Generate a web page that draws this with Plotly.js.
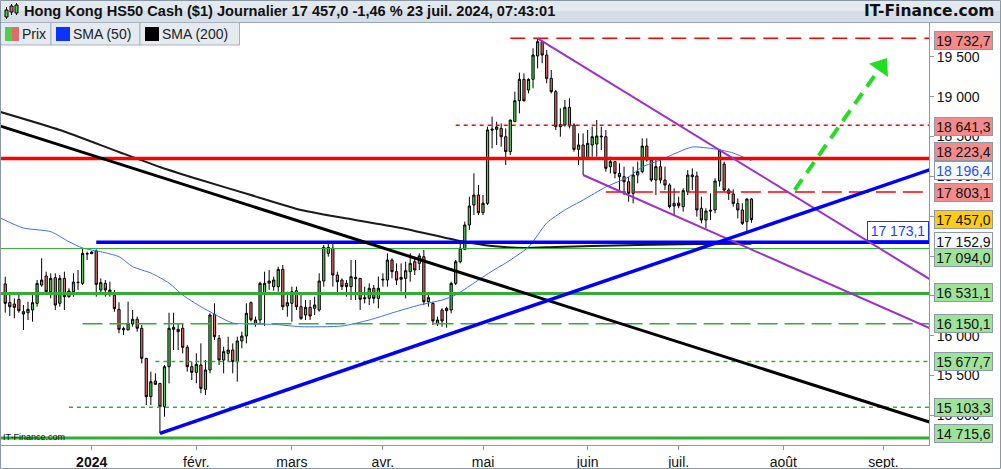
<!DOCTYPE html>
<html><head><meta charset="utf-8">
<script src="https://cdn.plot.ly/plotly-3.0.1.min.js"></script>
<style>html,body{margin:0;padding:0;background:#fff;}#chart{width:1001px;height:469px;}</style>
</head><body><div id="chart"></div>
<script>
// ---------- DATA ----------
const dates = ['2023-12-05','2023-12-06','2023-12-07','2023-12-08','2023-12-11','2023-12-12','2023-12-13','2023-12-14','2023-12-15','2023-12-18','2023-12-19','2023-12-20','2023-12-21','2023-12-22','2023-12-25','2023-12-26','2023-12-27','2023-12-28','2023-12-29',
'2024-01-01','2024-01-02','2024-01-03','2024-01-04','2024-01-05','2024-01-08','2024-01-09','2024-01-10','2024-01-11','2024-01-12','2024-01-15','2024-01-16','2024-01-17','2024-01-18','2024-01-19','2024-01-22','2024-01-23','2024-01-24','2024-01-25','2024-01-26','2024-01-29','2024-01-30','2024-01-31',
'2024-02-01','2024-02-02','2024-02-05','2024-02-06','2024-02-07','2024-02-08','2024-02-09','2024-02-12','2024-02-13','2024-02-14','2024-02-15','2024-02-16','2024-02-19','2024-02-20','2024-02-21','2024-02-22','2024-02-23','2024-02-26','2024-02-27','2024-02-28','2024-02-29',
'2024-03-01','2024-03-04','2024-03-05','2024-03-06','2024-03-07','2024-03-08','2024-03-11','2024-03-12','2024-03-13','2024-03-14','2024-03-15','2024-03-18','2024-03-19','2024-03-20','2024-03-21','2024-03-22','2024-03-25','2024-03-26','2024-03-27','2024-03-28',
'2024-04-01','2024-04-02','2024-04-03','2024-04-04','2024-04-05','2024-04-08','2024-04-09','2024-04-10','2024-04-11','2024-04-12','2024-04-15','2024-04-16','2024-04-17','2024-04-18','2024-04-19','2024-04-22','2024-04-23','2024-04-24','2024-04-25','2024-04-26','2024-04-29','2024-04-30',
'2024-05-01','2024-05-02','2024-05-03','2024-05-06','2024-05-07','2024-05-08','2024-05-09','2024-05-10','2024-05-13','2024-05-14','2024-05-15','2024-05-16','2024-05-17','2024-05-20','2024-05-21','2024-05-22','2024-05-23','2024-05-24','2024-05-27','2024-05-28','2024-05-29','2024-05-30','2024-05-31',
'2024-06-03','2024-06-04','2024-06-05','2024-06-06','2024-06-07','2024-06-10','2024-06-11','2024-06-12','2024-06-13','2024-06-14','2024-06-17','2024-06-18','2024-06-19','2024-06-20','2024-06-21','2024-06-24','2024-06-25','2024-06-26','2024-06-27','2024-06-28',
'2024-07-01','2024-07-02','2024-07-03','2024-07-04','2024-07-05','2024-07-08','2024-07-09','2024-07-10','2024-07-11','2024-07-12','2024-07-15','2024-07-16','2024-07-17','2024-07-18','2024-07-19','2024-07-22','2024-07-23'];

const opens = [16650,16415,16398,16456,16302,16289,16323,16406,16636,16749,16553,16728,16406,16720,16490,16553,16666,16657,17026,
17030,17063,16574,16657,16532,16511,16330,16090,16072,16147,16206,16093,15716,15235,15432,15402,15109,15611,16105,16080,16093,15854,15611,
15540,15632,15327,15570,16268,15967,15695,15779,15821,15674,15934,15996,16415,16155,16197,16532,16660,16616,16616,16833,16373,
16406,16565,16364,16260,16356,16344,16323,16687,17034,17097,16762,16699,16657,16616,16733,16720,16478,16469,16595,16469,
16699,16699,16950,16804,16708,16720,16804,16929,16908,16992,16427,16406,16155,16323,16344,16323,16657,16929,17084,17390,17641,17766,
17544,17662,18594,18590,18603,18498,18310,18687,18950,19218,19084,19218,19511,19691,19523,19230,19063,18650,18645,18866,18645,18339,18394,
18226,18394,18406,18506,18498,18122,18185,18038,17996,17933,17787,18017,18059,18381,18206,17954,18122,17954,17891,17661,
17665,17620,17808,18017,18005,17599,17452,17578,17578,17942,18155,17829,17779,17661,17578,17431,17716];

const highs = [16741,16532,16469,16511,16385,16427,16511,16699,16971,16804,16783,16783,16762,16804,16595,16783,16825,17097,17055,
17060,17084,16720,16699,16678,16574,16420,16113,16427,16323,16239,16134,15716,15549,15528,15402,15632,16289,16289,16155,16155,15883,15674,
15779,15904,15695,16281,16406,16009,15862,15988,15904,15988,16051,16406,16430,16240,16678,16804,16825,16741,16867,16888,16553,
16616,16616,16532,16448,16448,16490,16783,17139,17180,17160,16804,16720,16699,16950,16950,16720,16616,16657,16637,16741,
16783,17034,16971,16908,16908,16929,17034,16992,17034,17076,16532,16427,16239,16344,16364,16678,16950,17160,17432,17745,18038,17892,
17766,18624,18750,18687,18666,18603,18708,19063,19302,19293,19230,19607,19732.7,19700,19586,19335,19084,18854,18959,18980,18666,18540,18540,
18582,18624,18708,18624,18582,18247,18185,18164,18122,17996,18122,18185,18477,18477,18226,18206,18226,18122,17912,17850,
17745,17850,18080,18101,18059,17745,17600,17787,17975,18342,18185,17850,17837,17724,17661,17724,17724];

const lows = [16290,16247,16218,16289,16072,16197,16176,16364,16615,16532,16469,16323,16364,16323,16477,16490,16574,16636,16950,
17025,16490,16511,16490,16490,16300,16030,16009,16072,16113,16051,15653,15130,15130,15381,14775,14984,15402,15821,15821,15779,15549,15444,
15402,15277,15256,15528,15946,15632,15528,15674,15528,15423,15842,15904,16180,16113,16155,16122,16574,16565,16553,16323,16239,
16176,16323,16197,16197,16197,16260,16302,16616,16992,16616,16532,16574,16490,16448,16448,16323,16406,16385,16406,16344,
16616,16616,16720,16637,16553,16469,16678,16762,16825,16385,16364,16134,16122,16113,16100,16281,16637,16908,17076,17327,17515,17515,
17515,17641,18352,18394,18373,18143,18268,18687,18791,18938,19042,19105,19356,19419,19168,19042,18582,18498,18624,18603,18310,18143,18017,
18226,18247,18247,18331,18059,18038,17975,17829,17766,17682,17661,17912,18038,18185,17933,17766,17912,17829,17599,17515,
17599,17557,17766,17829,17494,17410,17348,17452,17536,17871,17808,17703,17620,17473,17390,17306,17418];

const closes = [16406,16364,16356,16314,16272,16331,16415,16657,16699,16553,16720,16385,16720,16490,16561,16674,16670,17034,17030,
17050,16645,16666,16574,16574,16340,16080,16075,16155,16206,16093,15716,15235,15423,15390,15109,15611,16093,16080,16051,15854,15611,15540,
15641,15339,15570,16260,15988,15695,15800,15821,15674,15934,15996,16281,16200,16197,16657,16657,16687,16699,16833,16364,16415,
16553,16364,16218,16356,16247,16385,16687,17109,17109,16762,16678,16616,16616,16741,16716,16457,16465,16595,16469,16595,
16708,16950,16804,16699,16733,16816,16908,16825,17001,16427,16478,16185,16197,16185,16314,16657,16929,17097,17390,17628,17766,17544,
17662,18582,18582,18620,18498,18310,18708,18950,19218,18950,19218,19523,19691,19523,19230,19063,18624,18624,18866,18632,18339,18394,18226,
18415,18498,18506,18498,18101,18185,18038,17996,17933,17787,18017,18059,18381,18206,17954,18122,17954,17891,17620,17628,
17632,17820,18017,17996,17578,17452,17565,17565,17942,18330,17829,17787,17661,17578,17410,17716,17457];

const sma50Dates = ['2023-12-04','2023-12-11','2023-12-19','2023-12-25','2023-12-28','2024-01-03','2024-01-09','2024-01-12','2024-01-18','2024-01-24','2024-01-29','2024-02-02','2024-02-08','2024-02-13','2024-02-19','2024-02-26','2024-03-05','2024-03-18','2024-03-26','2024-04-03','2024-04-11','2024-04-18','2024-04-23','2024-04-29','2024-05-03','2024-05-08','2024-05-15','2024-05-21','2024-05-27','2024-05-31','2024-06-07','2024-06-14','2024-06-19','2024-06-25','2024-07-01','2024-07-04','2024-07-11','2024-07-17','2024-07-23'];
const sma50Values = [17474,17352,17306,17180,17101,17054,16992,16866,16787,16661,16511,16364,16239,16159,16147,16143,16113,16122,16197,16285,16385,16448,16511,16661,16812,16913,17113,17415,17578,17703,17867,17992,18118,18206,18306,18369,18344,18293,18196.4];

const sma200Dates = ['2023-12-04','2023-12-21','2024-01-09','2024-01-22','2024-02-02','2024-02-19','2024-03-05','2024-03-21','2024-04-05','2024-04-24','2024-05-03','2024-05-14','2024-05-23','2024-06-04','2024-06-18','2024-07-05','2024-07-23'];
const sma200Values = [18808,18582,18306,18118,17954,17766,17578,17452,17352,17189,17126,17101,17113,17126,17138,17151,17152.9];

// drawn trend lines (start / end)
const longTrendDates = ['2023-12-01','2024-09-17'];   const longTrendValues = [18685,14901];
const supportDates   = ['2024-01-22','2024-09-17'];   const supportValues   = [14775,18099];
const channelTopDates = ['2024-05-17','2024-09-17'];  const channelTopValues = [19732.7,16681];
const channelLowDates = ['2024-05-31','2024-09-17'];  const channelLowValues = [18017,16073];
const arrowDates  = ['2024-08-05 12:00','2024-08-29 03:36']; const arrowValues = [17829,19272];
const arrowHeadDate = ['2024-08-30 13:12']; const arrowHeadValue = [19383];

// horizontal levels
const hLevelValues = [19732.7,18641.3,18223.4,17803.1,17173.1,17094.0,16531.1,16150.1,15677.7,15103.3,14715.6];
const hLevelStart  = ['2024-05-09','2024-04-23','2023-12-01','2024-06-07','2024-01-02','2023-12-01','2023-12-01','2023-12-28','2024-01-19','2023-12-25','2023-12-01'];
const lineEnd = '2024-09-17';

// right-hand price labels
const labelValues = [19732.7,18641.3,18223.4,18196.4,17803.1,17457.0,17152.9,17094.0,16531.1,16150.1,15677.7,15103.3,14715.6];
const trendLabelValue = 17173.1;

const yTickVals = [15000,15500,16000,16500,17000,17500,18000,18500,19000,19500];
// 16 500, 17 000 and 17 500 are entirely hidden behind the price boxes in the original
const yTickText = ['15 000','15 500','16 000','','','','18 000','18 500','19 000','19 500'];
const xTickVals = ['2024-01-01','2024-02-01','2024-03-01','2024-04-01','2024-05-01','2024-06-03','2024-07-01','2024-08-01','2024-09-02'];
const xTickText = ['<b>2024</b>','févr.','mars','avr.','mai','juin','juil.','août','sept.'];

const titleText = 'Hong Kong HS50 Cash ($1) Journalier';
const changePct = '-1,46 %';
const stamp = '23 juil. 2024, 07:43:01';

// ---------- STYLE / LAYOUT ----------
const W=1001,H=469,L=1,R=72,T=23,B=24;
const PW=W-L-R, PH=H-T-B;
const px = x => (x-L)/PW;
const py = y => (H-B-y)/PH;
const FONT = 'Liberation Sans, Arial, sans-serif';
function fmt(v){const s=v.toFixed(1).split('.');return s[0].replace(/\B(?=(\d{3})+(?!\d))/g,' ')+','+s[1];}

const GREEN='#33ad33', RED='#ff0000', BLUE='#0000ff', PURPLE='#9b30cc';
const hLevelStyle = [
  {c:RED,w:1.5,d:'15px,8px'},{c:RED,w:1.5,d:'4px,4px'},{c:RED,w:3.5,d:'solid'},{c:RED,w:1.5,d:'20px,7px'},
  {c:BLUE,w:3.5,d:'solid'},{c:GREEN,w:1,d:'solid'},{c:GREEN,w:3,d:'solid'},{c:GREEN,w:1.5,d:'20px,7px'},
  {c:GREEN,w:1.5,d:'4px,4px'},{c:GREEN,w:1.5,d:'4px,4px'},{c:GREEN,w:3,d:'solid'}];

const RBG='#f28b8b', GBG='#9fe39b';
const labelStyle = [
  {bg:RBG,fg:'#111',s:-1.7},{bg:RBG,fg:'#111',s:-1},{bg:RBG,fg:'#111',s:6.6},{bg:'#f7f9fa',fg:'#1f4dff',s:-9.5},
  {bg:RBG,fg:'#111',s:0},{bg:'#ffcc10',fg:'#111',s:0},{bg:'#f7f9fa',fg:'#111',s:2},{bg:GBG,fg:'#111',s:-8.5},
  {bg:GBG,fg:'#111',s:1},{bg:GBG,fg:'#111',s:0},{bg:GBG,fg:'#111',s:0},{bg:GBG,fg:'#111',s:0},{bg:GBG,fg:'#111',s:4.3}];

const traces = [
  {type:'scatter',mode:'lines',x:sma200Dates,y:sma200Values,line:{color:'#1a1a1a',width:2,shape:'spline',smoothing:0.6},hoverinfo:'skip'},
  {type:'scatter',mode:'lines',x:sma50Dates,y:sma50Values,line:{color:'#3f6dff',width:1,shape:'spline',smoothing:0.6},hoverinfo:'skip'},
  {type:'candlestick',x:dates,open:opens,high:highs,low:lows,close:closes,
   increasing:{line:{color:'#000',width:1},fillcolor:'#4fcf4f'},
   decreasing:{line:{color:'#000',width:1},fillcolor:'#e26b6b'},whiskerwidth:0,hoverinfo:'skip'},
  {type:'scatter',mode:'lines',x:arrowDates,y:arrowValues,line:{color:'#22dd22',width:4,dash:'13px,8px'},hoverinfo:'skip'},
  {type:'scatter',mode:'markers',x:arrowHeadDate,y:arrowHeadValue,marker:{symbol:'triangle-up',size:20,angle:35,color:'#22dd22'},hoverinfo:'skip',cliponaxis:false}
];

const shapes = [];
hLevelValues.forEach((v,i)=>{
  const st=hLevelStyle[i];
  shapes.push({type:'line',xref:'x',yref:'y',x0:hLevelStart[i],x1:lineEnd,y0:v,y1:v,line:{color:st.c,width:st.w,dash:st.d}});
});
shapes.push({type:'line',xref:'x',yref:'y',x0:longTrendDates[0],x1:longTrendDates[1],y0:longTrendValues[0],y1:longTrendValues[1],line:{color:'#000',width:3}});
shapes.push({type:'line',xref:'x',yref:'y',x0:channelTopDates[0],x1:channelTopDates[1],y0:channelTopValues[0],y1:channelTopValues[1],line:{color:PURPLE,width:2}});
shapes.push({type:'line',xref:'x',yref:'y',x0:channelLowDates[0],x1:channelLowDates[1],y0:channelLowValues[0],y1:channelLowValues[1],line:{color:PURPLE,width:2}});
shapes.push({type:'line',xref:'x',yref:'y',x0:supportDates[0],x1:supportDates[1],y0:supportValues[0],y1:supportValues[1],line:{color:BLUE,width:3.5}});

const rect=(x0,y0,x1,y1,fill,line,lw)=>({type:'rect',xref:'paper',yref:'paper',x0:px(x0),x1:px(x1),y0:py(y1),y1:py(y0),fillcolor:fill,line:{color:line||'rgba(0,0,0,0)',width:lw||0},layer:'above'});
const seg=(x0,y0,x1,y1,col,lw)=>({type:'line',xref:'paper',yref:'paper',x0:px(x0),x1:px(x1),y0:py(y0),y1:py(y1),line:{color:col,width:lw},layer:'above'});
shapes.push(rect(0,0,1001,11,'#e2e9ef'));
shapes.push(rect(0,11,1001,22.5,'#d5dee6'));
shapes.push(seg(0,22.5,1001,22.5,'#97a5b2',1));
shapes.push(rect(0.5,22.5,51,45,'#e4eaef','#a7b2bc',1));
shapes.push(rect(51,22.5,140,45,'#e4eaef','#a7b2bc',1));
shapes.push(rect(140,22.5,239.5,45,'#e4eaef','#a7b2bc',1));
shapes.push(rect(5,27,12,41,'#4fcf4f'));
shapes.push(rect(12,27,19,41,'#e26b6b'));
shapes.push(rect(56,27,70,41,'#0a33ff'));
shapes.push(rect(145,27,159,41,'#000'));
shapes.push(seg(6.5,7,6.5,19,'#000',1)); shapes.push(rect(5,10,8,17,'#4fcf4f','#000',1));
shapes.push(seg(11.5,4,11.5,15,'#000',1)); shapes.push(rect(10,6,13,12,'#e26b6b','#000',1));
shapes.push(seg(16.5,3,16.5,15,'#000',1)); shapes.push(rect(15,5,18,13,'#4fcf4f','#000',1));
shapes.push({type:'rect',xref:'paper',yref:'paper',x0:px(0.5),x1:px(1000.5),y0:py(468.5),y1:py(0.5),line:{color:'#8a98a5',width:1},fillcolor:'rgba(0,0,0,0)',layer:'above'});

const annotations = [];
const ann=(x,y,text,opts)=>Object.assign({xref:'paper',yref:'paper',x:px(x),y:py(y),text:text,showarrow:false,xanchor:'left',yanchor:'middle',font:{family:FONT,size:14,color:'#111'}},opts||{});
annotations.push(ann(22,11.5,'<b>'+titleText+' '+fmt(closes[closes.length-1])+' '+changePct+' '+stamp+'</b>',{font:{family:FONT,size:14.6,color:'#111'}}));
annotations.push(ann(997,11.5,'<b>IT-Finance.com</b>',{xanchor:'right',font:{family:'DejaVu Sans, Verdana, sans-serif',size:15.5,color:'#111'}}));
annotations.push(ann(20,34,'Prix',{font:{family:FONT,size:14,color:'#222'}}));
annotations.push(ann(71,34,'SMA (50)',{font:{family:FONT,size:14,color:'#222'}}));
annotations.push(ann(160,34,'SMA (200)',{font:{family:FONT,size:14,color:'#222'}}));
annotations.push(ann(1,437,'IT-Finance.com',{font:{family:FONT,size:9,color:'#111'}}));

labelValues.forEach((v,i)=>{
  const st=labelStyle[i];
  annotations.push({xref:'paper',yref:'y',x:px(934),y:v,yshift:st.s,xanchor:'left',yanchor:'middle',text:fmt(v),showarrow:false,
    font:{family:FONT,size:14,color:st.fg},bgcolor:st.bg,bordercolor:'#8e9ba7',borderwidth:1,borderpad:1,width:55,height:15,align:'center'});
});
annotations.push({xref:'paper',yref:'y',x:1,y:trendLabelValue,yshift:1,xanchor:'right',yanchor:'bottom',text:fmt(trendLabelValue),showarrow:false,
  font:{family:FONT,size:14,color:'#1a3cff'},bgcolor:'#ffffff',bordercolor:'#1a2dff',borderwidth:1,borderpad:1,width:58,height:16,align:'center'});

const layout = {
  width:W,height:H,margin:{l:L,r:R,t:T,b:B,pad:0},
  paper_bgcolor:'#fff',plot_bgcolor:'#fff',showlegend:false,
  font:{family:FONT,size:14,color:'#222'},
  xaxis:{type:'date',range:['2023-12-04 01:40','2024-09-16 00:30'],
    rangebreaks:[{bounds:['sat','mon']},{values:['2024-03-29']}],
    rangeslider:{visible:false},tickmode:'array',tickvals:xTickVals,ticktext:xTickText,
    ticks:'outside',ticklen:4,tickcolor:'#8c9aa6',showline:true,linecolor:'#8c9aa6',linewidth:1,
    showgrid:false,zeroline:false,tickfont:{family:FONT,size:14,color:'#111'},fixedrange:true},
  yaxis:{side:'right',range:[14628.2,19925.1],tickmode:'array',tickvals:yTickVals,ticktext:yTickText,
    ticks:'outside',ticklen:4,tickcolor:'#8c9aa6',showline:true,linecolor:'#8c9aa6',linewidth:1,
    showgrid:false,zeroline:false,tickfont:{family:FONT,size:14,color:'#111'},fixedrange:true},
  shapes:shapes,annotations:annotations
};
Plotly.newPlot('chart',traces,layout,{displayModeBar:false,staticPlot:true});
</script></body></html>
